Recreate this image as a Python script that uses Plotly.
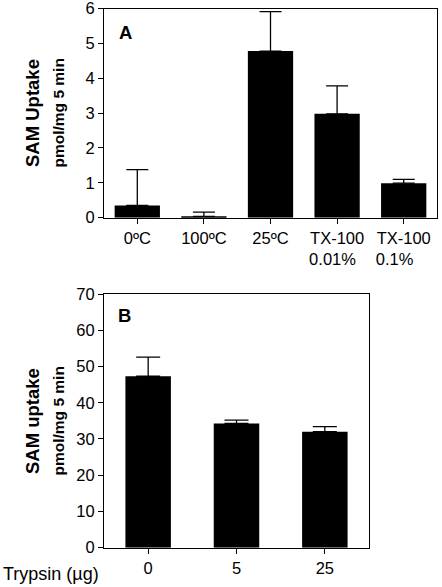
import plotly.graph_objects as go

# ---- data ----
cats_a = ["0ºC", "100ºC", "25ºC", "TX-100<br>0.01%\u00a0\u00a0", "TX-100<br>0.1%\u00a0\u00a0\u00a0\u00a0"]
vals_a = [0.35, 0.04, 4.78, 2.98, 0.99]
err_a = [1.03, 0.12, 1.13, 0.80, 0.11]

cats_b = ["0", "5", "25"]
vals_b = [47.3, 34.3, 32.0]
err_b = [5.3, 0.9, 1.4]

FONT = "Liberation Sans, Arial, sans-serif"
W, H = 442, 587

def px(x):
    return x / W

def py(y):
    return 1 - y / H

fig = go.Figure()
fig.add_trace(go.Bar(
    x=cats_a, y=vals_a, xaxis="x", yaxis="y", width=0.68,
    marker=dict(color="black", line=dict(width=0)),
    error_y=dict(type="data", array=err_a, arrayminus=[0] * len(err_a), symmetric=False,
                 color="black", thickness=1.3, width=11),
    showlegend=False))
fig.add_trace(go.Bar(
    x=cats_b, y=vals_b, xaxis="x2", yaxis="y2", width=0.515,
    marker=dict(color="black", line=dict(width=0)),
    error_y=dict(type="data", array=err_b, arrayminus=[0] * len(err_b), symmetric=False,
                 color="black", thickness=1.3, width=12),
    showlegend=False))

axis_common = dict(showline=True, linecolor="black", linewidth=1, mirror=True,
                   ticks="outside", ticklen=5, tickwidth=1, tickcolor="black",
                   showgrid=False, zeroline=False, automargin=False,
                   ticklabeloverflow="allow",
                   tickfont=dict(family=FONT, size=16.5, color="black"))

fig.update_layout(
    width=W, height=H,
    margin=dict(l=0, r=0, t=0, b=0, autoexpand=False),
    paper_bgcolor="white", plot_bgcolor="white",
    font=dict(family=FONT, color="black"),
    xaxis=dict(domain=[px(104), px(437)], anchor="y", type="category",
               range=[-0.5, 4.5], **axis_common),
    yaxis=dict(domain=[py(217.7), py(8.5)], anchor="x",
               range=[0, 6], dtick=1, **axis_common),
    xaxis2=dict(domain=[px(104), px(369)], anchor="y2", type="category",
                range=[-0.5, 2.5], **axis_common),
    yaxis2=dict(domain=[py(547.7), py(294)], anchor="x2",
                range=[0, 70], dtick=10, **axis_common),
)

def ann(text, x, y, size, angle=0, xanchor="center", yanchor="middle"):
    fig.add_annotation(text=text, x=px(x), y=py(y), xref="paper", yref="paper",
                       showarrow=False, textangle=angle, xanchor=xanchor, yanchor=yanchor,
                       font=dict(family=FONT, size=size, color="black"))

ann("<b>SAM Uptake</b>", 32, 113, 18.5, -90)
ann("<b>pmol/mg 5 min</b>", 57.5, 113, 15.5, -90)
ann("<b>SAM uptake</b>", 32, 421, 18.5, -90)
ann("<b>pmol/mg 5 min</b>", 57.5, 421, 15.5, -90)
ann("<b>A</b>", 117, 32.5, 18.5, xanchor="left")
ann("<b>B</b>", 116, 315.5, 18.5, xanchor="left")
ann("Trypsin (µg)", 1, 574, 18, xanchor="left")

fig.write_html("out.html", config={"displayModeBar": False},
               post_script="document.body.style.margin='0';document.body.style.overflow='hidden';")
